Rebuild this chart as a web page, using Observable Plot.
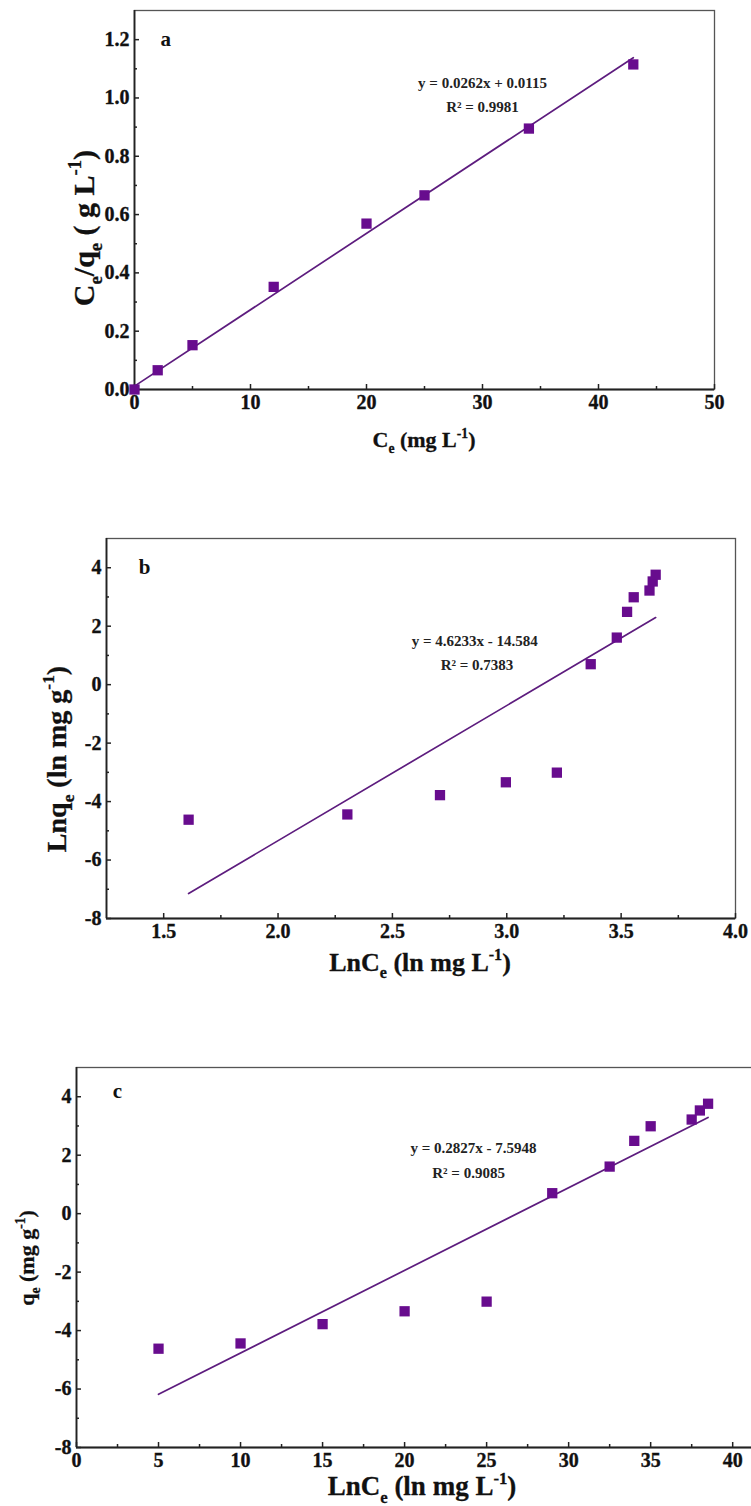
<!DOCTYPE html>
<html><head><meta charset="utf-8">
<script src="https://cdn.jsdelivr.net/npm/d3@7"></script>
<script src="https://cdn.jsdelivr.net/npm/@observablehq/plot@0.6"></script>
<style>
html,body{margin:0;padding:0;background:#fff;overflow:hidden;}
.panel{width:751px;overflow:hidden;display:block;}
svg{display:block;max-width:none !important;}
svg text{font-family:"Liberation Serif",serif !important;font-weight:bold !important;}
</style></head><body><div id="chart"></div><script>
// ---------- Panel a : Langmuir ----------
const ceA = [0, 2, 5, 12, 20, 25, 34, 43];
const ratioA = [0, 0.066, 0.152, 0.352, 0.569, 0.666, 0.895, 1.115];
const fitA = [0.0262, 0.0115];           // slope, intercept
const eqA = ["y = 0.0262x + 0.0115", "R² = 0.9981"];
const xTicksA = [0, 10, 20, 30, 40, 50];
const xMinorA = [5, 15, 25, 35, 45];
const yTicksA = [0, 0.2, 0.4, 0.6, 0.8, 1.0, 1.2];
const yMinorA = [0.1, 0.3, 0.5, 0.7, 0.9, 1.1];

// ---------- Panel b : Freundlich ----------
const lnCeB = [1.609, 2.303, 2.708, 2.996, 3.219, 3.367, 3.481, 3.526, 3.555, 3.624, 3.638, 3.651];
const lnQeB = [-4.62, -4.44, -3.78, -3.34, -3.01, 0.70, 1.61, 2.49, 2.99, 3.22, 3.53, 3.76];
const fitB = [4.6233, -14.584];
const eqB = ["y = 4.6233x - 14.584", "R² = 0.7383"];
const xTicksB = [1.5, 2.0, 2.5, 3.0, 3.5, 4.0];
const xMinorB = [1.75, 2.25, 2.75, 3.25, 3.75];
const yTicksB = [-8, -6, -4, -2, 0, 2, 4];
const yMinorB = [-7, -5, -3, -1, 1, 3];

// ---------- Panel c : Temkin ----------
const ceC = [5, 10, 15, 20, 25, 29, 32.5, 34, 35, 37.5, 38, 38.5];
const qeC = [-4.62, -4.44, -3.78, -3.34, -3.01, 0.70, 1.61, 2.49, 2.99, 3.22, 3.53, 3.76];
const fitC = [0.2827, -7.5948];
const eqC = ["y = 0.2827x - 7.5948", "R² = 0.9085"];
const xTicksC = [0, 5, 10, 15, 20, 25, 30, 35, 40];
const xMinorC = [2.5, 7.5, 12.5, 17.5, 22.5, 27.5, 32.5, 37.5];
const yTicksC = [-8, -6, -4, -2, 0, 2, 4];
const yMinorC = [-7, -5, -3, -1, 1, 3];

// axis titles: [text, "sub"|"sup"|""]
const xTitleA = [["C",""],["e","sub"],[" (mg L",""],["-1","sup"],[")",""]];
const yTitleA = [["C",""],["e","sub"],["/q",""],["e","sub"],[" ( g L",""],["-1","sup"],[")",""]];
const xTitleB = [["LnC",""],["e","sub"],[" (ln mg L",""],["-1","sup"],[")",""]];
const yTitleB = [["Lnq",""],["e","sub"],[" (ln mg g",""],["-1","sup"],[")",""]];
const xTitleC = [["LnC",""],["e","sub"],[" (ln mg L",""],["-1","sup"],[")",""]];
const yTitleC = [["q",""],["e","sub"],[" (mg g",""],["-1","sup"],[")",""]];

const SERIF = "Liberation Serif";
const MARK = "#680c8e";
const LINE = "#5d1c7e";

function addTitle(svg, segs, x, y, rotate, size) {
  const t = d3.select(svg).append("text")
    .attr("x", x).attr("y", y)
    .attr("text-anchor", "middle")
    .attr("font-family", SERIF).attr("font-weight", "bold")
    .style("font-size", size + "px").attr("fill", "#111")
    .attr("stroke", "#111").attr("stroke-width", 0.3);
  if (rotate) t.attr("transform", `rotate(-90,${x},${y})`);
  let shift = 0;
  for (const [s, kind] of segs) {
    const ts = t.append("tspan").text(s);
    let target = 0;
    if (kind === "sub") { ts.style("font-size", (size * 0.62) + "px"); target = size * 0.28; }
    else if (kind === "sup") { ts.style("font-size", (size * 0.62) + "px"); target = -size * 0.42; }
    ts.attr("dy", target - shift);
    shift = target;
  }
}

function panel(cfg) {
  const fh = cfg.height - cfg.mt - cfg.mb;
  const fw = cfg.width - cfg.ml - cfg.mr;
  const pts = cfg.xs.map((x, i) => ({x, y: cfg.ys[i]}));
  const x0 = d3.min(cfg.xs), x1 = d3.max(cfg.xs);
  const fit = [x0, x1].map(x => ({x, y: cfg.fit[0] * x + cfg.fit[1]}));
  const txt = {fontWeight: "bold", fontFamily: SERIF};
  const plot = Plot.plot({
    width: cfg.width, height: cfg.height,
    marginLeft: cfg.ml, marginRight: cfg.mr, marginTop: cfg.mt, marginBottom: cfg.mb,
    x: {domain: cfg.xDomain},
    y: {domain: cfg.yDomain},
    style: {fontFamily: SERIF, fontWeight: "bold", fontSize: "20px", color: "#111", background: "#fff", overflow: "visible", maxWidth: "none"},
    marks: [
      Plot.frame({stroke: "#555", strokeWidth: 1.3}),
      Plot.ruleY([cfg.yDomain[0]], {stroke: "#222", strokeWidth: 1.8}),
      Plot.ruleX([cfg.xDomain[0]], {stroke: "#222", strokeWidth: 1.8}),
      Plot.tickX(cfg.xMajor, {x: d => d, insetTop: fh - 5, stroke: "#222", strokeWidth: 1.5}),
      Plot.tickX(cfg.xMinor, {x: d => d, insetTop: fh - 3, stroke: "#222", strokeWidth: 1.5}),
      Plot.tickY(cfg.yMajor, {y: d => d, insetRight: fw - 5, stroke: "#222", strokeWidth: 1.5}),
      Plot.tickY(cfg.yMinor, {y: d => d, insetRight: fw - 3, stroke: "#222", strokeWidth: 1.5}),
      Plot.axisX({ticks: cfg.xMajor, tickSize: 0, tickPadding: 5, tickFormat: cfg.xFmt, label: null,
        fontSize: 20, ...txt, fill: "#111"}),
      Plot.axisY({ticks: cfg.yMajor, tickSize: 0, tickPadding: 5, tickFormat: cfg.yFmt, label: null,
        fontSize: 20, ...txt, fill: "#111"}),
      Plot.line(fit, {x: "x", y: "y", stroke: LINE, strokeWidth: 1.7}),
      Plot.dot(pts, {x: "x", y: "y", symbol: "square", r: 5.8, fill: MARK, stroke: "none"}),
      Plot.text([cfg.eq[0]], {x: cfg.eqPos[0], y: cfg.eqPos[1], text: d => d, fontSize: 15, ...txt, fill: "#222"}),
      Plot.text([cfg.eq[1]], {x: cfg.eqPos[2], y: cfg.eqPos[3], text: d => d, fontSize: 15, ...txt, fill: "#222"}),
      Plot.text([cfg.letter], {x: cfg.letterPos[0], y: cfg.letterPos[1], text: d => d, fontSize: 21, ...txt, fill: "#111"})
    ]
  });
  // heavier tick labels, like the bold scanned original
  d3.select(plot).selectAll('g[aria-label$="tick label"] text')
    .style("font-size", "20px").attr("stroke", "#111").attr("stroke-width", 0.35);
  addTitle(plot, cfg.xTitle, cfg.xT[0], cfg.xT[1], false, cfg.xT[2]);
  addTitle(plot, cfg.yTitle, cfg.yT[0], cfg.yT[1], true, cfg.yT[2]);
  const div = document.createElement("div");
  div.className = "panel";
  div.style.height = cfg.height + "px";
  div.appendChild(plot);
  document.getElementById("chart").appendChild(div);
}

const intFmt = d => String(d);
const f1 = d => d.toFixed(1);

panel({
  width: 751, height: 470, ml: 134, mr: 37, mt: 10, mb: 81,
  xDomain: [0, 50], yDomain: [0, 1.3],
  xs: ceA, ys: ratioA, fit: fitA, eq: eqA,
  xMajor: xTicksA, xMinor: xMinorA, yMajor: yTicksA, yMinor: yMinorA,
  xFmt: intFmt, yFmt: f1,
  eqPos: [30.0, 1.051, 30.0, 0.968], letter: "a", letterPos: [2.7, 1.2],
  xTitle: xTitleA, yTitle: yTitleA, xT: [424, 447, 22], yT: [94, 228, 30]
});

panel({
  width: 751, height: 520, ml: 106, mr: 16, mt: 68, mb: 72,
  xDomain: [1.25, 4.0], yDomain: [-8, 5],
  xs: lnCeB, ys: lnQeB, fit: fitB, eq: eqB,
  xMajor: xTicksB, xMinor: xMinorB, yMajor: yTicksB, yMinor: yMinorB,
  xFmt: f1, yFmt: intFmt,
  eqPos: [2.86, 1.5, 2.87, 0.66], letter: "b", letterPos: [1.417, 4],
  xTitle: xTitleB, yTitle: yTitleB, xT: [420, 501, 26], yT: [66, 289, 28]
});

panel({
  width: 770, height: 516, ml: 76, mr: 5, mt: 77, mb: 59,
  xDomain: [0, 42], yDomain: [-8, 5],
  xs: ceC, ys: qeC, fit: fitC, eq: eqC,
  xMajor: xTicksC, xMinor: xMinorC, yMajor: yTicksC, yMinor: yMinorC,
  xFmt: intFmt, yFmt: intFmt,
  eqPos: [24.2, 2.23, 23.9, 1.39], letter: "c", letterPos: [2.5, 4.17],
  xTitle: xTitleC, yTitle: yTitleC, xT: [422, 505, 27], yT: [34, 268, 22]
});
</script></body></html>
